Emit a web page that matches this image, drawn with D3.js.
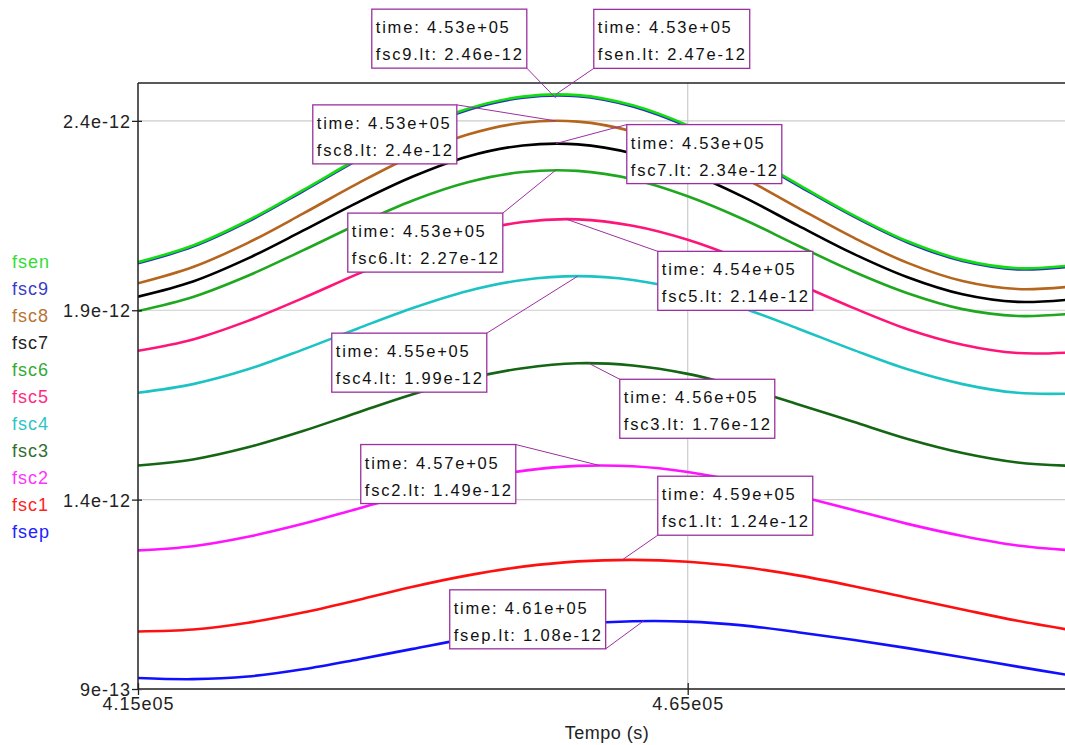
<!DOCTYPE html>
<html>
<head>
<meta charset="utf-8">
<script src="https://cdn.jsdelivr.net/npm/d3@7"></script>
<style>
  body { margin: 0; background: #fff; }
  text { font-family: "Liberation Sans", Arial, sans-serif; }
</style>
</head>
<body>
<svg id="chart" width="1065" height="745"></svg>
<script>
// values are in units of 1e-12
const UNIT = 1e-12

const timeS = [415000, 420000, 425000, 430000, 435000, 440000, 445000, 450000, 455000,
               460000, 465000, 470000, 475000, 480000, 485000, 490000, 495000, 500000]

const seriesNames = ['fsen', 'fsc9', 'fsc8', 'fsc7', 'fsc6', 'fsc5', 'fsc4', 'fsc3', 'fsc2', 'fsc1', 'fsep']

const fsen = [2.027, 2.071, 2.137, 2.217, 2.300, 2.375, 2.432, 2.464, 2.468, 2.441, 2.388, 2.316, 2.233, 2.152, 2.082, 2.033, 2.011, 2.019]
const fsc9 = [2.024, 2.068, 2.134, 2.214, 2.297, 2.372, 2.429, 2.461, 2.465, 2.438, 2.385, 2.313, 2.230, 2.149, 2.079, 2.030, 2.008, 2.016]
const fsc8 = [1.971, 2.014, 2.078, 2.155, 2.235, 2.308, 2.364, 2.395, 2.398, 2.372, 2.320, 2.251, 2.171, 2.093, 2.025, 1.977, 1.956, 1.963]
const fsc7 = [1.936, 1.976, 2.037, 2.110, 2.185, 2.253, 2.306, 2.335, 2.338, 2.314, 2.265, 2.200, 2.124, 2.050, 1.987, 1.942, 1.922, 1.929]
const fsc6 = [1.898, 1.935, 1.991, 2.058, 2.127, 2.190, 2.238, 2.265, 2.268, 2.246, 2.201, 2.141, 2.071, 2.003, 1.945, 1.903, 1.885, 1.891]
const fsc5 = [1.793, 1.823, 1.872, 1.932, 1.996, 2.056, 2.103, 2.133, 2.140, 2.123, 2.086, 2.033, 1.970, 1.907, 1.850, 1.809, 1.787, 1.789]
const fsc4 = [1.682, 1.705, 1.744, 1.796, 1.852, 1.906, 1.951, 1.980, 1.990, 1.980, 1.951, 1.906, 1.852, 1.796, 1.744, 1.705, 1.682, 1.680]
const fsc3 = [1.490, 1.506, 1.538, 1.581, 1.630, 1.678, 1.719, 1.747, 1.760, 1.754, 1.732, 1.696, 1.652, 1.606, 1.560, 1.523, 1.498, 1.489]
const fsc2 = [1.266, 1.277, 1.302, 1.336, 1.376, 1.416, 1.450, 1.476, 1.489, 1.488, 1.473, 1.446, 1.410, 1.373, 1.336, 1.304, 1.279, 1.266]
const fsc1 = [1.052, 1.057, 1.075, 1.102, 1.135, 1.170, 1.200, 1.223, 1.237, 1.241, 1.236, 1.222, 1.200, 1.172, 1.141, 1.110, 1.080, 1.055]
const fsep = [0.929, 0.926, 0.933, 0.952, 0.978, 1.006, 1.033, 1.055, 1.071, 1.079, 1.078, 1.068, 1.050, 1.030, 1.008, 0.984, 0.959, 0.935]

const yTickValues = [0.9, 1.4, 1.9, 2.4]
const yTickLabels = ['9e-13', '1.4e-12', '1.9e-12', '2.4e-12']
const xTickValues = [415000, 465000]
const xTickLabels = ['4.15e05', '4.65e05']
const xTitle = 'Tempo (s)'

// point readouts
const calloutSeries = ['fsc9', 'fsen', 'fsc8', 'fsc7', 'fsc6', 'fsc5', 'fsc4', 'fsc3', 'fsc2', 'fsc1', 'fsep']
const calloutTime = [453000, 453000, 453000, 453000, 453000, 454000, 455000, 456000, 457000, 459000, 461000]
const calloutTimeText = ['4.53e+05', '4.53e+05', '4.53e+05', '4.53e+05', '4.53e+05', '4.54e+05', '4.55e+05', '4.56e+05', '4.57e+05', '4.59e+05', '4.61e+05']
const calloutValueText = ['2.46e-12', '2.47e-12', '2.4e-12', '2.34e-12', '2.27e-12', '2.14e-12', '1.99e-12', '1.76e-12', '1.49e-12', '1.24e-12', '1.08e-12']

// layout / style
const colors = {
    fsen: '#11dd11', fsc9: '#2b2bc8', fsc8: '#b5651d', fsc7: '#000000', fsc6: '#1fa81f',
    fsc5: '#ff1478', fsc4: '#1cc3c3', fsc3: '#146614', fsc2: '#ff14ff', fsc1: '#ff1010', fsep: '#1010ff'
}
const legendColors = {
    fsen: '#33dd33', fsc9: '#3b3bc8', fsc8: '#b87333', fsc7: '#222222', fsc6: '#33aa33',
    fsc5: '#ff2a80', fsc4: '#2ec4c4', fsc3: '#2f6f2f', fsc2: '#ff33ff', fsc1: '#ff2222', fsep: '#2222ff'
}
// box top-left offsets from the point
const calloutOffset = [[-184, -89], [38, -85], [-243, -16], [71, -19], [-208, 43], [91, 32],
                       [-246, 57], [31, 16], [-239, -21], [36, -84], [-194, -31]]

const plot = { left: 138, right: 1072.5, top: 83, bottom: 689 }

const svg = d3.select('#chart')

const x = d3.scaleLinear().domain([415000, 500000]).range([plot.left, plot.right])
const y = d3.scaleLinear().domain([0.9 * UNIT, 2.5 * UNIT]).range([plot.bottom, plot.top])

svg.append('rect').attr('width', 1065).attr('height', 745).attr('fill', '#fff')

svg.append('clipPath').attr('id', 'plot-clip')
    .append('rect')
    .attr('x', plot.left).attr('y', plot.top)
    .attr('width', plot.right - plot.left).attr('height', plot.bottom - plot.top)

// grid
const grid = svg.append('g').attr('class', 'grid')
grid.selectAll('.hgrid')
    .data(yTickValues.filter(v => v > 0.9))
    .enter().append('line')
    .attr('x1', plot.left).attr('x2', plot.right)
    .attr('y1', d => y(d * UNIT)).attr('y2', d => y(d * UNIT))
    .style('stroke', '#cccccc').style('stroke-width', 1.2)
grid.selectAll('.vgrid')
    .data(xTickValues.slice(1))
    .enter().append('line')
    .attr('x1', d => x(d)).attr('x2', d => x(d))
    .attr('y1', plot.top).attr('y2', plot.bottom)
    .style('stroke', '#cccccc').style('stroke-width', 1.2)

// series lines
const seriesData = { fsen, fsc9, fsc8, fsc7, fsc6, fsc5, fsc4, fsc3, fsc2, fsc1, fsep }
const line = d3.line()
    .x((d, i) => x(timeS[i]))
    .y(d => y(d * UNIT))
    .curve(d3.curveCatmullRom.alpha(0.5))

svg.append('g').attr('clip-path', 'url(#plot-clip)')
    .selectAll('path')
    .data(seriesNames.slice().reverse())
    .enter().append('path')
    .attr('d', name => line(seriesData[name]))
    .style('fill', 'none')
    .style('stroke', name => colors[name])
    .style('stroke-width', 2.6)

// frame
svg.append('line')
    .attr('x1', plot.left).attr('x2', plot.right)
    .attr('y1', plot.top).attr('y2', plot.top)
    .style('stroke', '#222').style('stroke-width', 1.5)

// axes
const yAxis = d3.axisLeft(y)
    .tickValues(yTickValues.map(v => v * UNIT))
    .tickFormat((d, i) => yTickLabels[i])
    .tickSize(5)
    .tickPadding(6)
const yg = svg.append('g').attr('transform', `translate(${plot.left},0)`).call(yAxis)
yg.select('.domain').attr('d', `M0,${plot.top}V${plot.bottom}`).style('stroke', '#222').style('stroke-width', 1.5)
yg.selectAll('.tick line').attr('x1', 4).attr('x2', -6).style('stroke', '#222').style('stroke-width', 1.3)
yg.selectAll('.tick text')
    .style('font-size', '18px').style('letter-spacing', '1px')
    .style('fill', '#222').attr('x', -7).attr('dy', '0.36em')
    .style('font-family', '"Liberation Sans", Arial, sans-serif')

const xAxis = d3.axisBottom(x)
    .tickValues(xTickValues)
    .tickFormat((d, i) => xTickLabels[i])
    .tickSize(6)
    .tickPadding(4)
const xg = svg.append('g').attr('transform', `translate(0,${plot.bottom})`).call(xAxis)
xg.select('.domain').attr('d', `M${plot.left},0H${plot.right}`).style('stroke', '#555').style('stroke-width', 2)
xg.selectAll('.tick line').attr('y1', -6).attr('y2', 6).style('stroke', '#222').style('stroke-width', 1.3)
xg.selectAll('.tick text')
    .style('font-size', '18px').style('letter-spacing', '1px')
    .style('fill', '#222').attr('y', 8).attr('dy', '0.72em')
    .style('font-family', '"Liberation Sans", Arial, sans-serif')

svg.append('text')
    .attr('x', 607).attr('y', 739)
    .attr('text-anchor', 'middle')
    .style('font-size', '18px').style('letter-spacing', '0.5px').style('fill', '#222')
    .text(xTitle)

// legend
svg.append('g').selectAll('text')
    .data(seriesNames)
    .enter().append('text')
    .attr('x', 12)
    .attr('y', (d, i) => 268 + i * 27)
    .style('font-size', '18px').style('letter-spacing', '1px')
    .style('fill', d => legendColors[d])
    .text(d => d)

// callouts
const calls = svg.append('g')
calloutSeries.forEach((name, i) => {
    const px = x(calloutTime[i])
    const py = y(+calloutValueText[i])
    const bx = px + calloutOffset[i][0]
    const by = py + calloutOffset[i][1]
    const g = calls.append('g')
    const t1 = g.append('text').attr('x', bx + 4).attr('y', by + 24)
        .style('font-size', '16.5px').style('letter-spacing', '1.8px').style('fill', '#111')
        .text('time: ' + calloutTimeText[i])
    const t2 = g.append('text').attr('x', bx + 4).attr('y', by + 51)
        .style('font-size', '16.5px').style('letter-spacing', '1.8px').style('fill', '#111')
        .text(name + '.lt: ' + calloutValueText[i])
    const w = Math.max(t1.node().getComputedTextLength(), t2.node().getComputedTextLength()) + 7
    const h = 59
    // leader from nearest box corner
    const corners = [[bx, by], [bx + w, by], [bx, by + h], [bx + w, by + h]]
    const c = corners.reduce((a, b) => (Math.hypot(a[0] - px, a[1] - py) <= Math.hypot(b[0] - px, b[1] - py) ? a : b))
    g.insert('line', 'text')
        .attr('x1', c[0]).attr('y1', c[1]).attr('x2', px).attr('y2', py)
        .style('stroke', '#9b30a0').style('stroke-width', 1)
    g.insert('rect', 'text')
        .attr('x', bx).attr('y', by).attr('width', w).attr('height', h)
        .style('fill', '#fff').style('stroke', '#9b30a0').style('stroke-width', 1.3)
})
</script>
</body>
</html>
